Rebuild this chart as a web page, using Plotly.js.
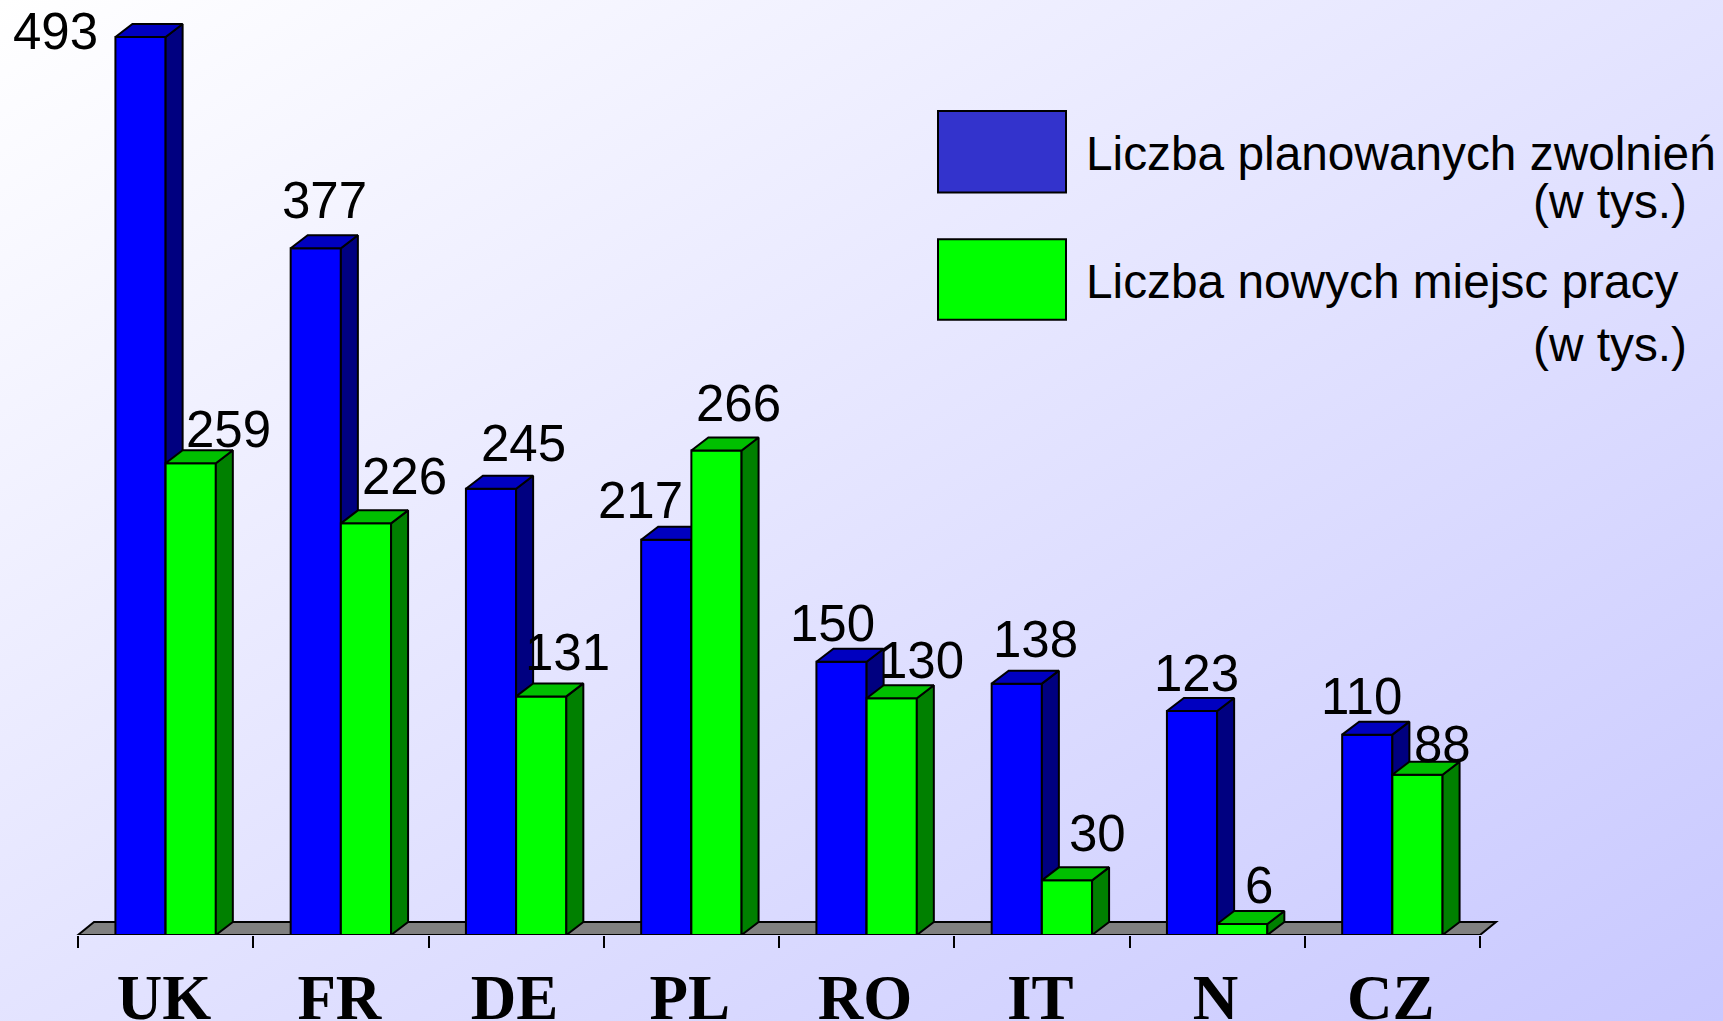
<!DOCTYPE html>
<html>
<head>
<meta charset="utf-8">
<script src="https://cdn.plot.ly/plotly-3.0.1.min.js"></script>
<style>
html,body{margin:0;padding:0;width:1723px;height:1021px;overflow:hidden;background:linear-gradient(to bottom right,#ffffff,#c8c8ff);}
#chart{width:1723px;height:1021px;}
</style>
</head>
<body>
<div id="chart"></div>
<script>
// ---- data ----
var categories = ['UK','FR','DE','PL','RO','IT','N','CZ'];
var layoffs = [493,377,245,217,150,138,123,110];
var newJobs = [259,226,131,266,130,30,6,88];
var legendLayoffs = ['Liczba planowanych zwolnień','(w tys.)'];
var legendJobs = ['Liczba nowych miejsc pracy','(w tys.)'];

// ---- label placement relative to the bar's top centre (px) ----
var layoffLabelDx = [-85,8.5,32,-26,-9,19,4.5,-6];
var layoffLabelUp = [5,48,45,39,38,44,37.5,38];
var jobsLabelDx = [38,39,26,22,30,31,17,25];
var jobsLabelUp = [34,47,44,47,38,47,39,30];

// ---- geometry ----
var W = 1723, H = 1021, baseY = 935.5, pxPerUnit = 1.8225;
var axisLeft = 78, catPx = 175.25;
var barW = 0.2865;
var depthX = 17/catPx, depthY = 13/pxPerUnit;
var floorX = 16/catPx;
var labelNudge = 1.5/catPx;
var xRange = [-0.5-axisLeft/catPx, -0.5+(W-axisLeft)/catPx];
var yRange = [0, baseY/pxPerUnit];
var idx = categories.map(function(_,i){return i;});
var labelPos = idx.map(function(i){return i-labelNudge;});
var boundaries = categories.map(function(_,i){return i-0.5;}).concat([categories.length-0.5]);

function bar(vals,offset,color,xa,ya){
  return {type:'bar',x:idx,y:vals,width:barW,offset:offset,xaxis:xa,yaxis:ya,
    marker:{color:color,line:{color:'#000',width:2}},showlegend:false,hoverinfo:'x+y'};
}
function face(xs,ys,color,xa,ya){
  return {type:'scatter',mode:'lines',x:xs,y:ys,xaxis:xa,yaxis:ya,fill:'toself',fillcolor:color,
    line:{color:'#000',width:2},showlegend:false,hoverinfo:'skip'};
}
function sideFace(vals,offset,color,xa,ya){
  var xs=[],ys=[];
  vals.forEach(function(v,i){
    var r=i+offset+barW;
    xs.push(r,r+depthX,r+depthX,r,r,null);
    ys.push(0,depthY,v+depthY,v,0,null);
  });
  return face(xs,ys,color,xa,ya);
}
function topFace(vals,offset,color,xa,ya){
  var xs=[],ys=[];
  vals.forEach(function(v,i){
    var l=i+offset, r=l+barW;
    xs.push(l,l+depthX,r+depthX,r,l,null);
    ys.push(v,v+depthY,v+depthY,v,v,null);
  });
  return face(xs,ys,color,xa,ya);
}

var traces = [
  bar(layoffs,-barW,'#0000ff','x','y'),
  sideFace(layoffs,-barW,'#000080','x','y'),
  topFace(layoffs,-barW,'#0000c0','x','y'),
  bar(newJobs,0,'#00ff00','x2','y2'),
  sideFace(newJobs,0,'#008000','x2','y2'),
  topFace(newJobs,0,'#00c000','x2','y2')
];

var annotations = [];
function valueLabel(v,i,centre,dx,up){
  annotations.push({xref:'x',yref:'y',x:i+centre,y:v,xshift:dx,yshift:up,text:String(v),showarrow:false,
    xanchor:'center',yanchor:'middle',font:{family:'Liberation Sans, Arial, sans-serif',size:51,color:'#000'}});
}
layoffs.forEach(function(v,i){valueLabel(v,i,-barW/2,layoffLabelDx[i],layoffLabelUp[i]);});
newJobs.forEach(function(v,i){valueLabel(v,i,barW/2,jobsLabelDx[i],jobsLabelUp[i]);});

function legendText(t,xpx,ypx,anchor){
  annotations.push({xref:'paper',yref:'paper',x:xpx/W,y:1-ypx/baseY,yanchor:'middle',xanchor:anchor,
    text:t,showarrow:false,font:{family:'Liberation Sans, Arial, sans-serif',size:47.8,color:'#000'}});
}
legendText(legendLayoffs[0],1084,154,'left');
legendText(legendLayoffs[1],1689,202,'right');
legendText(legendJobs[0],1084,282,'left');
legendText(legendJobs[1],1689,345,'right');

function swatch(y0,y1,color){
  return {type:'rect',xref:'paper',yref:'paper',x0:938/W,x1:1066/W,y0:1-y1/baseY,y1:1-y0/baseY,
    fillcolor:color,line:{color:'#000',width:2},layer:'above'};
}
var floorPath = 'M '+(-0.5)+',0 L '+(-0.5+floorX)+','+depthY+' L '+(categories.length-0.5+floorX)+','+depthY+' L '+(categories.length-0.5)+',0 Z';

var layout = {
  width:W,height:H,
  margin:{l:0,r:0,t:0,b:H-baseY,pad:0,autoexpand:false},
  paper_bgcolor:'rgba(0,0,0,0)',plot_bgcolor:'rgba(0,0,0,0)',
  showlegend:false,
  xaxis:{type:'linear',range:xRange,showgrid:false,zeroline:false,showline:false,ticks:'',
    tickmode:'array',tickvals:labelPos,ticktext:categories,ticklabelstandoff:20,
    tickfont:{family:'Liberation Serif, Times New Roman, serif',size:63,weight:'bold',color:'#000'},
    minor:{tickmode:'array',tickvals:boundaries,ticks:'outside',ticklen:12,tickwidth:2,tickcolor:'#000',showgrid:false}},
  yaxis:{range:yRange,visible:false},
  xaxis2:{range:xRange,overlaying:'x',visible:false,anchor:'y2'},
  yaxis2:{range:yRange,overlaying:'y',visible:false,anchor:'x2'},
  shapes:[
    {type:'path',xref:'x',yref:'y',path:floorPath,fillcolor:'#808080',line:{color:'#000',width:2},layer:'below'},
    {type:'line',xref:'x',yref:'y',x0:-0.5,x1:categories.length-0.5,y0:0,y1:0,line:{color:'#000',width:2},layer:'above'},
    swatch(111,192.5,'#3333cc'),
    swatch(239.5,320,'#00ff00')
  ],
  annotations:annotations
};
Plotly.newPlot('chart',traces,layout,{displayModeBar:false,staticPlot:true});
</script>
</body>
</html>
